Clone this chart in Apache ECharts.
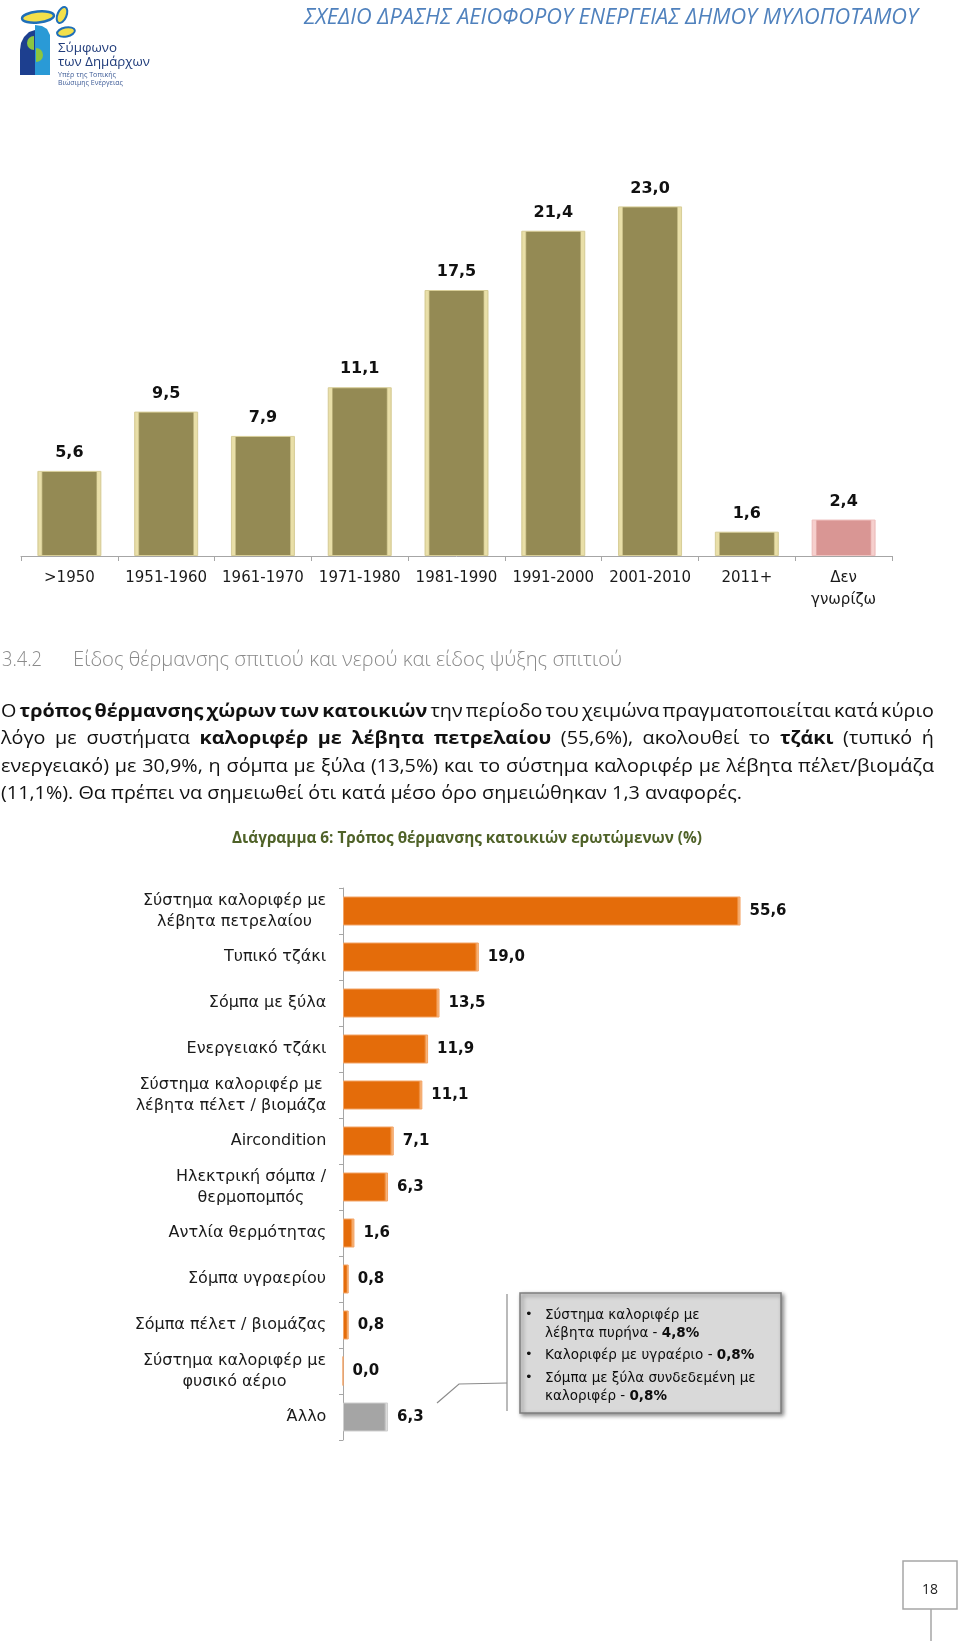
<!DOCTYPE html>
<html><head><meta charset="utf-8">
<script src="https://cdn.jsdelivr.net/npm/echarts@6/dist/echarts.min.js"></script>
<style>html,body{margin:0;padding:0;background:#fff}#c{width:960px;height:1641px}</style>
</head><body><div id="c"></div>
<script>
// ---------- data ----------
const periodCategories = ['>1950','1951-1960','1961-1970','1971-1980','1981-1990','1991-2000','2001-2010','2011+','Δεν\nγνωρίζω'];
const periodValues = [5.6, 9.5, 7.9, 11.1, 17.5, 21.4, 23.0, 1.6, 2.4];

const heatingCategories = [
  'Σύστημα καλοριφέρ με\nλέβητα πετρελαίου',
  'Τυπικό τζάκι',
  'Σόμπα με ξύλα',
  'Ενεργειακό τζάκι',
  'Σύστημα καλοριφέρ με\nλέβητα πέλετ / βιομάζα',
  'Aircondition',
  'Ηλεκτρική σόμπα /\nθερμοπομπός',
  'Αντλία θερμότητας',
  'Σόμπα υγραερίου',
  'Σόμπα πέλετ / βιομάζας',
  'Σύστημα καλοριφέρ με\nφυσικό αέριο',
  'Άλλο'
];
const heatingValues = [55.6, 19.0, 13.5, 11.9, 11.1, 7.1, 6.3, 1.6, 0.8, 0.8, 0.0, 6.3];

const otherNoteLabels = ['Σύστημα καλοριφέρ με\nλέβητα πυρήνα', 'Καλοριφέρ με υγραέριο', 'Σόμπα με ξύλα συνδεδεμένη με\nκαλοριφέρ'];
const otherNoteValues = [4.8, 0.8, 0.8];

const headerTitle = 'ΣΧΕΔΙΟ ΔΡΑΣΗΣ ΑΕΙΟΦΟΡΟΥ ΕΝΕΡΓΕΙΑΣ ΔΗΜΟΥ ΜΥΛΟΠΟΤΑΜΟΥ';
const sectionNumber = '3.4.2';
const sectionTitle = 'Είδος θέρμανσης σπιτιού και νερού και είδος ψύξης σπιτιού';
const paragraphLines = [
  [['Ο ',0],['τρόπος θέρμανσης χώρων των κατοικιών',1],[' την περίοδο του χειμώνα πραγματοποιείται κατά κύριο',0]],
  [['λόγο με συστήματα ',0],['καλοριφέρ με λέβητα πετρελαίου',1],[' (55,6%), ακολουθεί το ',0],['τζάκι',1],[' (τυπικό ή',0]],
  [['ενεργειακό) με 30,9%, η σόμπα με ξύλα (13,5%) και το σύστημα καλοριφέρ με λέβητα πέλετ/βιομάζα',0]],
  [['(11,1%). Θα πρέπει να σημειωθεί ότι κατά μέσο όρο σημειώθηκαν 1,3 αναφορές.',0]]
];
const captionText = 'Διάγραμμα 6: Τρόπος θέρμανσης κατοικιών ερωτώμενων (%)';
const pageNumber = '18';

// ---------- helpers ----------
const cvs = document.createElement('canvas');
const ctx = cvs.getContext('2d');
function tw(text, font){ ctx.font = font; return ctx.measureText(text).width; }
const fmt = v => Number(v).toFixed(1).replace('.', ',');

const G = [];
function fitText(text, x, y, w, font, fill){
  const nat = tw(text, font);
  G.push({type:'text', x:x, y:y, scaleX:w/nat, silent:true,
    style:{text:text, font:font, fill:fill, verticalAlign:'middle', textVerticalAlign:'middle'}});
}

// header
fitText(headerTitle, 304, 18, 614, 'italic 22px "Open Sans"', '#4f81bd');

// logo
G.push({type:'polygon', shape:{points:[[20,75],[20,50],[21,43],[24,37],[29,32],[35,30],[35,75]]}, style:{fill:'#1d3f8f'}});
G.push({type:'polygon', shape:{points:[[35,25],[42,26],[47,29],[50,35],[50,75],[35,75]]}, style:{fill:'#2a9ad6'}});
G.push({type:'sector', shape:{cx:34, cy:43, r:7, startAngle:Math.PI/2, endAngle:Math.PI*1.5}, style:{fill:'#8cc63f'}});
G.push({type:'sector', shape:{cx:36, cy:55, r:7, startAngle:-Math.PI/2, endAngle:Math.PI/2}, style:{fill:'#8cc63f'}});
G.push({type:'ellipse', x:38, y:17, rotation:0.1, shape:{cx:0, cy:0, rx:16, ry:5.5}, style:{fill:'#f3e04b', stroke:'#1f6fb8', lineWidth:2.5}});
G.push({type:'ellipse', x:62, y:15, rotation:-0.4, shape:{cx:0, cy:0, rx:4.5, ry:8.5}, style:{fill:'#f3e04b', stroke:'#1f6fb8', lineWidth:2}});
G.push({type:'ellipse', x:66, y:32, rotation:0.2, shape:{cx:0, cy:0, rx:9, ry:4.5}, style:{fill:'#f3e04b', stroke:'#1f6fb8', lineWidth:2}});
fitText('Σύμφωνο', 58, 48, 59, '13px "Open Sans"', '#1f3b7a');
fitText('των Δημάρχων', 58, 62, 92, '13px "Open Sans"', '#1f3b7a');
fitText('Υπέρ της Τοπικής', 58, 75, 58, '7px "Open Sans"', '#3c5a96');
fitText('Βιώσιμης Ενέργειας', 58, 83, 65, '7px "Open Sans"', '#3c5a96');

// section heading
fitText(sectionNumber, 2, 660, 40, '300 20px "Open Sans"', '#8a8a8a');
fitText(sectionTitle, 73, 660, 549, '300 20px "Open Sans"', '#8a8a8a');

// justified paragraph
(function(){
  const fN = '18px "Open Sans"', fB = 'bold 18px "Open Sans"';
  const sp = tw(' ', fN);
  const lines = paragraphLines.map(line => {
    const toks = [];
    line.forEach(([t,b]) => t.split(' ').filter(s => s.length).forEach(s => toks.push({t:s, b:b, w:tw(s, b?fB:fN)})));
    return toks;
  });
  const natural = toks => toks.reduce((a,k)=>a+k.w,0) + sp*(toks.length-1);
  const s = 741 / natural(lines[lines.length-1]);
  const ys = [712, 739.2, 766.4, 793.6];
  lines.forEach((toks, i) => {
    const last = i === lines.length-1;
    const sumW = toks.reduce((a,k)=>a+k.w,0)*s;
    const gap = last ? sp*s : (934 - 1 - sumW)/(toks.length-1);
    let x = 1;
    toks.forEach(k => {
      G.push({type:'text', x:x, y:ys[i], scaleX:s, silent:true,
        style:{text:k.t, font:k.b?fB:fN, fill:'#111', verticalAlign:'middle', textVerticalAlign:'middle'}});
      x += k.w*s + gap;
    });
  });
})();

// caption
fitText(captionText, 232, 838, 470, 'bold 16px "Open Sans"', '#4f6228');

// callout box
G.push({type:'rect', shape:{x:520, y:1293, width:261, height:120}, style:{fill:'#d9d9d9', stroke:'#7f7f7f', lineWidth:1.5, shadowBlur:4, shadowOffsetX:2, shadowOffsetY:2, shadowColor:'rgba(0,0,0,0.45)'}});
G.push({type:'line', shape:{x1:507, y1:1294, x2:507, y2:1411}, style:{stroke:'#8c8c8c', lineWidth:1.2}});
G.push({type:'polyline', shape:{points:[[507,1383],[459,1384],[437,1403]]}, style:{stroke:'#8c8c8c', lineWidth:1.2, fill:null}});
(function(){
  const tops = [1306, 1346, 1369];
  otherNoteLabels.forEach((lab, i) => {
    const parts = lab.split('\n');
    const lastLine = parts.pop();
    let txt = parts.map(p => '{n|' + p + '}').join('\n');
    txt += (txt ? '\n' : '') + '{n|' + lastLine + ' - }{b|' + fmt(otherNoteValues[i]) + '%}';
    G.push({type:'text', x:525, y:tops[i]+9, silent:true, style:{text:'•', font:'13px "DejaVu Sans"', fill:'#111', verticalAlign:'middle', textVerticalAlign:'middle'}});
    G.push({type:'text', x:545, y:tops[i], silent:true, style:{text:txt, fill:'#111', verticalAlign:'top', textVerticalAlign:'top',
      rich:{n:{fontFamily:'DejaVu Sans', fontSize:13.5, lineHeight:18, fill:'#0d0d0d'},
            b:{fontFamily:'DejaVu Sans', fontSize:13.5, lineHeight:18, fill:'#0d0d0d', fontWeight:'bold'}}}});
  });
})();

// page number
G.push({type:'rect', shape:{x:903, y:1561, width:54, height:48}, style:{fill:'#fff', stroke:'#a6a6a6', lineWidth:1.5}});
G.push({type:'line', shape:{x1:931, y1:1609, x2:931, y2:1641}, style:{stroke:'#a6a6a6', lineWidth:1.5}});
G.push({type:'text', x:930, y:1590, silent:true, style:{text:pageNumber, font:'14px "Open Sans"', fill:'#222', align:'center', textAlign:'center', verticalAlign:'middle', textVerticalAlign:'middle'}});

// ---------- bar styles ----------
function vBevel(base, light, rim){
  return {type:'linear', x:0, y:0, x2:1, y2:0, colorStops:[
    {offset:0, color:rim},{offset:0.025, color:light},{offset:0.06, color:light},{offset:0.085, color:base},
    {offset:0.915, color:base},{offset:0.94, color:light},{offset:0.975, color:light},{offset:1, color:rim}]};
}
function hBevel(base, light, v){
  const f = v > 0 ? Math.min(0.45, 4/(v*7.15)) : 0.1;
  return {type:'linear', x:0, y:0, x2:1, y2:0, colorStops:[
    {offset:0, color:light},{offset:Math.min(0.3,1.5/(Math.max(v,0.1)*7.15)), color:base},
    {offset:1-f, color:base},{offset:Math.min(1,1-f*0.4), color:light},{offset:1, color:light}]};
}
const lastPeriod = periodCategories.length - 1;
const lastHeating = heatingCategories.length - 1;

// per-label rich styles (centered multi-line labels)
const labFont = '16px "DejaVu Sans"';
const rich = {};
heatingCategories.forEach((c, i) => {
  const w = Math.max(...c.split('\n').map(l => tw(l, labFont)));
  rich['c'+i] = {width:Math.ceil(w)+1, align:'center', fontFamily:'DejaVu Sans', fontSize:16, lineHeight:21, color:'#1a1a1a'};
});

const chart = echarts.init(document.getElementById('c'), null, {renderer:'canvas'});
chart.setOption({
  animation:false,
  backgroundColor:'#ffffff',
  grid:[
    {left:21, top:176, width:871, height:380},
    {left:343, top:888, width:429, height:552}
  ],
  xAxis:[
    {gridIndex:0, type:'category', data:periodCategories,
     axisLine:{lineStyle:{color:'#a6a6a6', width:1}},
     axisTick:{show:true, length:5, lineStyle:{color:'#a6a6a6'}},
     axisLabel:{interval:0, margin:11, color:'#1a1a1a', fontFamily:'DejaVu Sans', fontSize:15, lineHeight:22}},
    {gridIndex:1, type:'value', min:0, max:60, show:false}
  ],
  yAxis:[
    {gridIndex:0, type:'value', min:0, max:25, show:false},
    {gridIndex:1, type:'category', inverse:true, data:heatingCategories,
     axisLine:{lineStyle:{color:'#a6a6a6', width:1}},
     axisTick:{show:true, length:4, lineStyle:{color:'#a6a6a6'}},
     axisLabel:{interval:0, margin:16, color:'#1a1a1a', fontFamily:'DejaVu Sans', fontSize:16, lineHeight:21, rich:rich,
       formatter:(val, idx) => val.split('\n').map(l => '{c'+idx+'|'+l+'}').join('\n')}}
  ],
  series:[
    {type:'bar', xAxisIndex:0, yAxisIndex:0, barWidth:64,
     data:periodValues.map((v,i) => ({value:v, itemStyle: i===lastPeriod
        ? {color:vBevel('#d99694','#f6cfcd','#e6b3b1'), borderColor:'#efc2c0', borderWidth:1}
        : {color:vBevel('#948a54','#e9dfa8','#cfc590'), borderColor:'#d8ce98', borderWidth:1}})),
     label:{show:true, position:'top', distance:10, color:'#111', fontFamily:'DejaVu Sans', fontWeight:'bold', fontSize:16,
       formatter:p => fmt(p.value)}},
    {type:'bar', xAxisIndex:1, yAxisIndex:1, barWidth:29,
     data:heatingValues.map((v,i) => ({value:v, itemStyle: i===lastHeating
        ? {color:hBevel('#a5a5a5','#dcdcdc',v), borderColor:'#cfcfcf', borderWidth:1}
        : {color:hBevel('#e46c0a','#f8b47a',v), borderColor:'#f3a466', borderWidth:1}})),
     label:{show:true, position:'right', distance:9, color:'#111', fontFamily:'DejaVu Sans', fontWeight:'bold', fontSize:15,
       formatter:p => fmt(p.value)}}
  ],
  graphic:{elements:G}
});
</script>
</body></html>
